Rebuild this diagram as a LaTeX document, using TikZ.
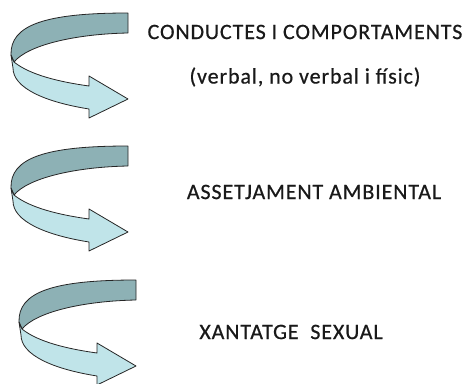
\documentclass[tikz,border=0pt]{standalone}
\usepackage{fontspec}
\usepackage{xcolor}
\setmainfont{Carlito}

\definecolor{bandback}{RGB}{141,177,181}
\definecolor{bandfront}{RGB}{192,228,233}
\definecolor{labelgray}{RGB}{25,25,25}

\tikzset{
  band/.style={draw=black!85, line width=0.8pt, line join=round},
  caption/.style={text=labelgray, font=\fontsize{22}{25}\selectfont\addfontfeature{LetterSpace=4,FakeBold=0.6}}
}

\begin{document}
\begin{tikzpicture}[x=1pt, y=-1pt]
\useasboundingbox (0,0) rectangle (466,383);
% three twisted arrows
\foreach \dx/\dy in {0/0, 0/133, 8/267} {
  \begin{scope}[shift={(\dx,\dy)}]
  \fill [band, fill=bandback] (128,13) .. controls (45,13) and (10,25) .. (11,55) -- (14,62) .. controls (28,45) and (75,34) .. (128,33) -- cycle;
  \fill [band, fill=bandfront] (11,55) -- (14,62) .. controls (30,75) and (60,82) .. (89,86) -- (89,76) -- (128,99) -- (89,118) -- (89,109) .. controls (45,102) and (13,88) .. (13,68) -- cycle;
  \end{scope}
}
\node [caption] (cond) at (305,32) {CONDUCTES I COMPORTAMENTS};
\node [caption] (verb) at (305,77) {(verbal, no verbal i físic)};
\node [caption] (amb) at (314,192) {ASSETJAMENT AMBIENTAL};
\node [caption] (xant) at (291,332) {XANTATGE\ \ SEXUAL};
\end{tikzpicture}
\end{document}
